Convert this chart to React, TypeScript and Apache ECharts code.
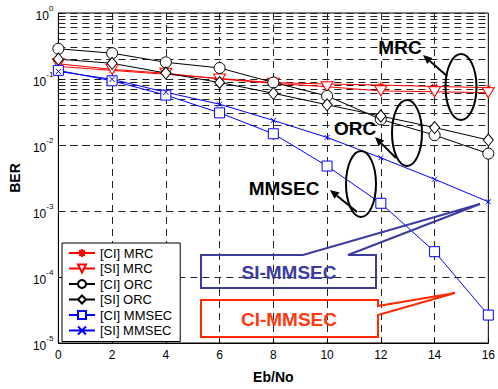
import React, { useEffect, useRef } from "react";
import * as echarts from "echarts";

const xValues = [0, 2, 4, 6, 8, 10, 12, 14, 16];
const ciMrc = [0.155, 0.135, 0.118, 0.102, 0.088, 0.084, 0.081, 0.077, 0.074];
const siMrc = [0.17, 0.14, 0.122, 0.1, 0.086, 0.0763, 0.066, 0.064, 0.062];
const ciOrc = [0.287, 0.246, 0.179, 0.147, 0.0885, 0.0554, 0.0245, 0.0141, 0.0074];
const siOrc = [0.2, 0.173, 0.123, 0.0885, 0.0607, 0.0407, 0.0274, 0.0184, 0.0119];
const ciMmsec = [0.135, 0.094, 0.057, 0.0307, 0.0148, 0.0048, 0.00131, 0.000242, 0.0000265];
const siMmsec = [0.13, 0.099, 0.063, 0.0415, 0.0236, 0.013, 0.0064, 0.00303, 0.00138];
const seriesNames = ["[CI] MRC", "[SI] MRC", "[CI] ORC", "[SI] ORC", "[CI] MMSEC", "[SI] MMSEC"];
const xTicks = { min: 0, max: 16, interval: 2 };
const yDecades = [-5, -4, -3, -2, -1];
const minorMultipliers = [2, 3, 4, 5, 6, 7, 8, 9];

const FONT = "'Liberation Sans', Arial, sans-serif";
const STAR = "path://M5,0L5,10M0,5L10,5M1.5,1.5L8.5,8.5M8.5,1.5L1.5,8.5";
const XMARK = "path://M0,0L10,10M10,0L0,10";

function arrow(x1: number, y1: number, x2: number, y2: number) {
  const dx = x2 - x1, dy = y2 - y1;
  const L = Math.sqrt(dx * dx + dy * dy);
  const ux = dx / L, uy = dy / L;
  const hl = 9, hw = 4;
  const bx = x2 - ux * hl, by = y2 - uy * hl;
  const px = -uy * hw, py = ux * hw;
  return [
    { type: "line", z: 100, shape: { x1, y1, x2: bx, y2: by }, style: { stroke: "#000", lineWidth: 2 } },
    { type: "polygon", z: 100, shape: { points: [[x2, y2], [bx + px, by + py], [bx - px, by - py]] }, style: { fill: "#000" } },
  ];
}

function pair(xs: number[], ys: number[]) {
  return xs.map((x, i) => [x, ys[i]]);
}

export default function App() {
  const ref = useRef<HTMLDivElement>(null);
  useEffect(() => {
    if (!ref.current) return;
    document.body.style.margin = "0";
    const chart = echarts.init(ref.current, undefined, { renderer: "svg" });
    const minorLines: any[] = [];
    yDecades.forEach((d) => minorMultipliers.forEach((m) => minorLines.push({ yAxis: m * Math.pow(10, d) })));
    const hollow = (c: string) => ({ color: "#fff", borderColor: c, borderWidth: 1 });
    const mk = (name: string, data: number[], color: string, symbol: string, size: any, extra: any = {}) => ({
      name,
      type: "line",
      data: pair(xValues, data),
      symbol,
      symbolSize: size,
      showAllSymbol: true,
      lineStyle: { color, width: 1 },
      itemStyle: hollow(color),
      z: 5,
      ...extra,
    });
    const series: any[] = [
      mk(seriesNames[0], ciMrc, "#ff0000", STAR, 7, {
        itemStyle: { color: "#ff0000", borderColor: "#ff0000", borderWidth: 1 },
        markLine: {
          silent: true,
          symbol: ["none", "none"],
          label: { show: false },
          lineStyle: { color: "#222", width: 1, type: [7, 5] },
          data: minorLines,
          z: 1,
        },
      }),
      mk(seriesNames[1], siMrc, "#ff0000", "triangle", [12, 10], { symbolRotate: 180 }),
      mk(seriesNames[2], ciOrc, "#000000", "circle", 11),
      mk(seriesNames[3], siOrc, "#000000", "diamond", [10, 12]),
      mk(seriesNames[4], ciMmsec, "#0000ff", "rect", 10),
      mk(seriesNames[5], siMmsec, "#0000ff", XMARK, 5, {
        itemStyle: { color: "#0000ff", borderColor: "#0000ff", borderWidth: 1 },
      }),
    ];

    const bold = `bold 19px ${FONT}`;
    const graphic: any[] = [
      { type: "text", z: 100, style: { text: "MRC", x: 400, y: 47, align: "center", verticalAlign: "middle", font: bold, fill: "#000" } },
      { type: "ellipse", z: 100, shape: { cx: 461, cy: 87, rx: 15.5, ry: 33 }, style: { fill: "none", stroke: "#000", lineWidth: 2 } },
      ...arrow(447, 76, 423, 55),
      { type: "text", z: 100, style: { text: "ORC", x: 355, y: 128, align: "center", verticalAlign: "middle", font: bold, fill: "#000" } },
      { type: "ellipse", z: 100, shape: { cx: 407, cy: 133, rx: 15, ry: 33 }, style: { fill: "none", stroke: "#000", lineWidth: 2 } },
      ...arrow(396, 158, 375, 137),
      { type: "text", z: 100, style: { text: "MMSEC", x: 284, y: 188, align: "center", verticalAlign: "middle", font: bold, fill: "#000" } },
      { type: "ellipse", z: 100, shape: { cx: 361, cy: 184, rx: 15, ry: 33 }, style: { fill: "none", stroke: "#000", lineWidth: 2 } },
      ...arrow(357, 212, 330, 190),
      {
        type: "polygon", z: 100,
        shape: { points: [[201, 255], [303, 255], [480, 204], [348, 255], [376, 255], [376, 288], [201, 288]] },
        style: { fill: "none", stroke: "#3c3ca0", lineWidth: 2 },
      },
      { type: "text", z: 100, style: { text: "SI-MMSEC", x: 289, y: 272, align: "center", verticalAlign: "middle", font: bold, fill: "#3c3ca0" } },
      {
        type: "polygon", z: 100,
        shape: { points: [[201, 300], [378, 300], [378, 306], [455, 293], [378, 315], [378, 337], [201, 337]] },
        style: { fill: "none", stroke: "#ff2a00", lineWidth: 2 },
      },
      { type: "text", z: 100, style: { text: "CI-MMSEC", x: 289, y: 319, align: "center", verticalAlign: "middle", font: bold, fill: "#ff3a10" } },
    ];

    chart.setOption({
      animation: false,
      backgroundColor: "#fff",
      textStyle: { fontFamily: FONT },
      grid: { left: 54, right: 7, top: 13, bottom: 39, show: true, borderColor: "#000", borderWidth: 1, backgroundColor: "transparent" },
      legend: {
        orient: "vertical",
        left: 62,
        top: 243,
        data: seriesNames,
        itemWidth: 26,
        itemHeight: 10,
        itemGap: 1.5,
        padding: [3, 8, 4, 6],
        backgroundColor: "#fff",
        borderColor: "#000",
        borderWidth: 1,
        borderRadius: 0,
        textStyle: { fontSize: 13, color: "#000", fontFamily: FONT, lineHeight: 14 },
        z: 50,
      },
      xAxis: {
        type: "value",
        min: xTicks.min,
        max: xTicks.max,
        interval: xTicks.interval,
        name: "Eb/No",
        nameLocation: "middle",
        nameGap: 27,
        nameTextStyle: { fontSize: 14, fontWeight: "bold", color: "#000", fontFamily: FONT },
        axisLine: { lineStyle: { color: "#000", width: 1 } },
        axisTick: { inside: true, length: 4, lineStyle: { color: "#000" } },
        axisLabel: { fontSize: 12, color: "#000", margin: 6, fontFamily: FONT },
        splitLine: { show: true, lineStyle: { color: "#222", width: 1, type: [7, 5] } },
      },
      yAxis: {
        type: "log",
        logBase: 10,
        min: 1e-5,
        max: 1,
        splitNumber: 5,
        name: "BER",
        nameLocation: "middle",
        nameGap: 29,
        nameTextStyle: { fontSize: 14, fontWeight: "bold", color: "#000", fontFamily: FONT },
        axisLine: { lineStyle: { color: "#000", width: 1 } },
        axisTick: { inside: true, length: 4, lineStyle: { color: "#000" } },
        axisLabel: {
          color: "#000",
          margin: 5,
          formatter: (v: number) => `{b|10}{s|${Math.round(Math.log10(v))}}`,
          rich: {
            b: { fontSize: 12, color: "#000", fontFamily: FONT, verticalAlign: "bottom", lineHeight: 18 },
            s: { fontSize: 8, color: "#000", fontFamily: FONT, verticalAlign: "top", lineHeight: 18 },
          },
        },
        splitLine: { show: true, lineStyle: { color: "#222", width: 1, type: [7, 5] } },
      },
      series,
      graphic,
    });
    return () => chart.dispose();
  }, []);
  return <div ref={ref} style={{ width: 498, height: 389 }} />;
}
